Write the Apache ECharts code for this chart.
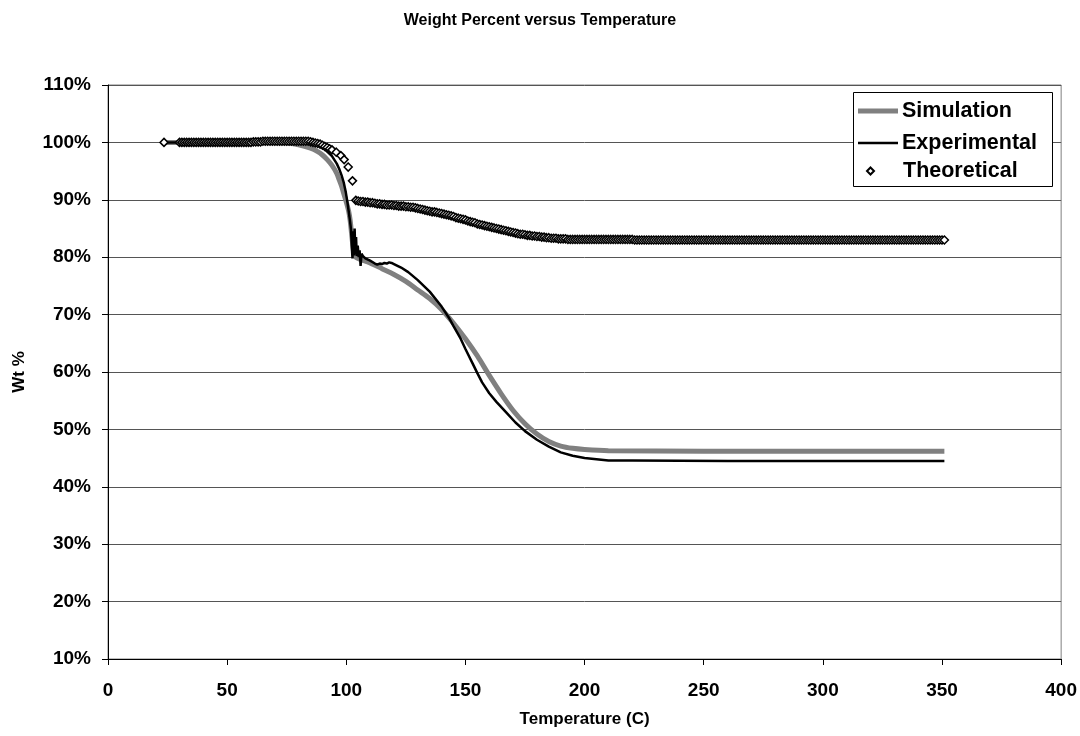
<!DOCTYPE html>
<html>
<head>
<meta charset="utf-8">
<script src="https://cdn.jsdelivr.net/npm/echarts@6/dist/echarts.min.js"></script>
<style>html,body{margin:0;padding:0;background:#fff}#c{width:1080px;height:736px}</style>
</head>
<body>
<div id="c"></div>
<script>
const chartTitle = 'Weight Percent versus Temperature';
const xTitle = 'Temperature (C)';
const yTitle = 'Wt %';
const seriesNames = ['Simulation', 'Experimental', 'Theoretical'];

// Simulation [T, wt%]
const simulation = [
  [24,100],[40,100],[60,100],[75,99.9],[80,99.6],[85,99.0],[88,98.4],[90,97.8],[92,97.0],[94,96.0],
  [96,94.6],[97,93.5],[98,92.4],[99,91.0],[100,89.6],[101,88.0],[101.6,86.5],[102,85.0],[102.5,83.0],
  [103,81.2],[103.5,80.4],[104,80.0],[106,79.6],[108,79.3],[110,79.0],[115,78.0],[120,77.0],
  [125,75.8],[130,74.3],[135,72.8],[140,70.9],[145,68.5],[150,65.8],[155,62.8],[160,59.4],
  [165,56.2],[170,53.3],[175,51.0],[180,49.2],[185,47.9],[190,47.1],[195,46.7],[200,46.5],
  [210,46.3],[250,46.2],[300,46.2],[351,46.2]
];

// Experimental [T, wt%]
const experimental = [
  [24,100],[30,100],[40,100.1],[50,100.2],[60,100.3],[70,100.4],[75,100.5],[80,100.4],[84,100.2],
  [86,99.9],[88,99.6],[90,99.1],[92,98.4],[94,97.6],[96,96.3],[97,95.4],[98,94.3],[99,92.9],
  [99.8,91.3],[100.5,89.5],[101,88.0],[101.5,86.5],[102,84.8],[102.3,82.0],[102.6,79.8],
  [102.9,84.5],[103.2,80.3],[103.5,85.0],[103.8,80.5],[104.1,83.5],[104.4,80.2],[104.8,82.0],
  [105.2,80.0],[105.6,81.2],[106,78.5],[106.4,80.6],[107,80.2],[108,79.8],[110,79.4],[112,78.9],
  [113,78.7],[114,78.9],[115,78.8],[116,79.0],[117,78.9],[118,79.1],[119,79.0],[120,78.8],
  [123,78.2],[126,77.4],[130,76.0],[135,74.0],[140,71.4],[143,69.5],[145,68.0],[148,65.8],
  [150,64.0],[153,61.5],[155,59.8],[157,58.2],[160,56.3],[163,54.8],[167,53.0],[171,51.2],
  [175,49.7],[180,48.2],[185,47.0],[190,46.0],[195,45.4],[200,45.0],[205,44.8],[210,44.6],
  [220,44.6],[260,44.5],[300,44.5],[351,44.5]
];

// Theoretical (markers) [T, wt%]
const theoreticalStart = [
  [23.5,100],
  [30,100],[31,100],[32,100],[33,100],[34,100],[35,100],[36,100],[37,100],[38,100],[39,100],
  [40,100],[41,100],[42,100],[43,100],[44,100],[45,100],[46,100],[47,100],[48,100],[49,100],
  [50,100],[51,100],[52,100],[53,100],[54,100],[55,100],[56,100],[57,100],[58,100],[59,100],
  [60,100],[61,100.1],[62,100.1],[63,100.1],[64,100.1],[65,100.2],[66,100.2],[67,100.2],[68,100.2],
  [69,100.2],[70,100.2],[71,100.2],[72,100.2],[73,100.2],[74,100.2],[75,100.2],[76,100.2],[77,100.2],
  [78,100.2],[79,100.2],[80,100.2],[81,100.2],[82,100.2],[83,100.2],[84,100.2],[85,100.1],[86,100.0],
  [87,99.9],[88,99.8],[89,99.7],[90,99.5],[91,99.3],[92,99.1],[93,98.9],[94,98.7]
];
const theoreticalDrop = [
  [95.8,98.3],[97.7,97.7],[99.1,97.0],[100.8,95.7],[102.6,93.3]
];
const theoreticalLate = [
  [104,89.9],[105,89.8],[106,89.7],[107,89.7],[108,89.6],[109,89.6],[110,89.5],[111,89.5],[112,89.4],
  [113,89.3],[114,89.3],[115,89.2],[116,89.2],[117,89.1],[118,89.1],[119,89.1],[120,89.0],[121,89.0],
  [122,88.9],[123,88.9],[124,88.9],[125,88.8],[126,88.8],[127,88.7],[128,88.7],[129,88.6],[130,88.5],
  [131,88.4],[132,88.3],[133,88.2],[134,88.1],[135,88.0],[136,87.9],[137,87.9],[138,87.8],[139,87.7],
  [140,87.6],[141,87.5],[142,87.4],[143,87.3],[144,87.2],[145,87.1],[146,86.9],[147,86.8],[148,86.7],
  [149,86.6],[150,86.5],[151,86.3],[152,86.2],[153,86.1],[154,86.0],[155,85.8],[156,85.7],[157,85.6],
  [158,85.5],[159,85.4],[160,85.3],[161,85.2],[162,85.1],[163,85.0],[164,84.9],[165,84.8],[166,84.7],
  [167,84.6],[168,84.5],[169,84.4],[170,84.3],[171,84.2],[172,84.1],[173,84.0],[174,84.0],[175,83.9],
  [176,83.8],[177,83.8],[178,83.7],[179,83.7],[180,83.6],[181,83.6],[182,83.5],[183,83.5],[184,83.4],
  [185,83.4],[186,83.3],[187,83.3],[188,83.3],[189,83.2],[190,83.2],[191,83.2],[192,83.2],[193,83.1],
  [194,83.1],[195,83.1],[196,83.1],[197,83.1],[198,83.1],[199,83.1],[200,83.1],[201,83.1],[202,83.1],
  [203,83.1],[204,83.1],[205,83.1],[206,83.1],[207,83.1],[208,83.1],[209,83.1],[210,83.1],[211,83.1],
  [212,83.1],[213,83.1],[214,83.1],[215,83.1],[216,83.1],[217,83.1],[218,83.1],[219,83.1],[220,83.1],
  [221,83.0],[222,83.0],[223,83.0],[224,83.0],[225,83.0],[226,83.0],[227,83.0],[228,83.0],[229,83.0],
  [230,83.0],[231,83.0],[232,83.0],[233,83.0],[234,83.0],[235,83.0],[236,83.0],[237,83.0],[238,83.0],
  [239,83.0],[240,83.0],[241,83.0],[242,83.0],[243,83.0],[244,83.0],[245,83.0],[246,83.0],[247,83.0],
  [248,83.0],[249,83.0],[250,83.0],[251,83.0],[252,83.0],[253,83.0],[254,83.0],[255,83.0],[256,83.0],
  [257,83.0],[258,83.0],[259,83.0],[260,83.0],[261,83.0],[262,83.0],[263,83.0],[264,83.0],[265,83.0],
  [266,83.0],[267,83.0],[268,83.0],[269,83.0],[270,83.0],[271,83.0],[272,83.0],[273,83.0],[274,83.0],
  [275,83.0],[276,83.0],[277,83.0],[278,83.0],[279,83.0],[280,83.0],[281,83.0],[282,83.0],[283,83.0],
  [284,83.0],[285,83.0],[286,83.0],[287,83.0],[288,83.0],[289,83.0],[290,83.0],[291,83.0],[292,83.0],
  [293,83.0],[294,83.0],[295,83.0],[296,83.0],[297,83.0],[298,83.0],[299,83.0],[300,83.0],[301,83.0],
  [302,83.0],[303,83.0],[304,83.0],[305,83.0],[306,83.0],[307,83.0],[308,83.0],[309,83.0],[310,83.0],
  [311,83.0],[312,83.0],[313,83.0],[314,83.0],[315,83.0],[316,83.0],[317,83.0],[318,83.0],[319,83.0],
  [320,83.0],[321,83.0],[322,83.0],[323,83.0],[324,83.0],[325,83.0],[326,83.0],[327,83.0],[328,83.0],
  [329,83.0],[330,83.0],[331,83.0],[332,83.0],[333,83.0],[334,83.0],[335,83.0],[336,83.0],[337,83.0],
  [338,83.0],[339,83.0],[340,83.0],[341,83.0],[342,83.0],[343,83.0],[344,83.0],[345,83.0],[346,83.0],
  [347,83.0],[348,83.0],[349,83.0],[350,83.0],[351,83.0]
];
const theoretical = theoreticalStart.concat(theoreticalDrop, theoreticalLate);

const FONT = 'Liberation Sans, Arial, sans-serif';
const chart = echarts.init(document.getElementById('c'), null, {renderer: 'canvas'});

function legendFor(name, top, left, w, h, icon, padLeft) {
  return {
    data: [{name: name, icon: icon}],
    left: left, top: top, z: 10,
    itemWidth: w, itemHeight: h, itemGap: 0,
    padding: 0,
    textStyle: {fontFamily: FONT, fontWeight: 'bold', fontSize: 21.5, color: '#000', padding: [0,0,0,padLeft]},
    selectedMode: false
  };
}

chart.setOption({
  animation: false,
  backgroundColor: '#fff',
  title: {
    text: chartTitle, left: 'center', top: 8,
    textStyle: {fontFamily: FONT, fontWeight: 'bold', fontSize: 16, color: '#000'}
  },
  grid: {left: 108, right: 18, top: 85, bottom: 77, show: true, borderColor: '#808080', borderWidth: 1, backgroundColor: 'transparent'},
  graphic: [{
    type: 'rect', left: 853, top: 92, z: 1,
    shape: {width: 199, height: 94},
    style: {fill: '#fff', stroke: '#000', lineWidth: 1}
  }],
  legend: [
    legendFor(seriesNames[0], 100, 858, 40, 5, 'rect', -1),
    legendFor(seriesNames[1], 132, 858, 40, 2.5, 'rect', -1),
    legendFor(seriesNames[2], 160, 866, 7, 7, 'diamond', 24)
  ],
  xAxis: {
    type: 'value', min: 0, max: 400, interval: 50,
    name: xTitle, nameLocation: 'middle', nameGap: 52,
    nameTextStyle: {fontFamily: FONT, fontWeight: 'bold', fontSize: 17, color: '#000'},
    axisLine: {show: true, lineStyle: {color: '#000', width: 1}},
    axisTick: {show: true, inside: false, length: 6, lineStyle: {color: '#000'}},
    axisLabel: {fontFamily: FONT, fontWeight: 'bold', fontSize: 19, color: '#000', margin: 22},
    splitLine: {show: false}
  },
  yAxis: {
    type: 'value', min: 10, max: 110, interval: 10,
    name: yTitle, nameLocation: 'middle', nameGap: 80, nameRotate: 90,
    nameTextStyle: {fontFamily: FONT, fontWeight: 'bold', fontSize: 17, color: '#000'},
    axisLine: {show: true, lineStyle: {color: '#000', width: 1}},
    axisTick: {show: true, inside: false, length: 6, lineStyle: {color: '#000'}},
    axisLabel: {fontFamily: FONT, fontWeight: 'bold', fontSize: 19, color: '#000', margin: 17, formatter: '{value}%'},
    splitLine: {show: true, lineStyle: {color: '#555', width: 1}}
  },
  series: [
    {
      name: seriesNames[0], type: 'line', data: simulation, showSymbol: false, symbol: 'none',
      smooth: 0.3, lineStyle: {color: '#808080', width: 5}, itemStyle: {color: '#808080'}, z: 2
    },
    {
      name: seriesNames[1], type: 'line', data: experimental, showSymbol: false, symbol: 'none',
      smooth: false, lineStyle: {color: '#000', width: 2.5}, itemStyle: {color: '#000'}, z: 3
    },
    {
      name: seriesNames[2], type: 'scatter', data: theoretical, symbol: 'diamond', symbolSize: 8,
      itemStyle: {color: '#fff', borderColor: '#000', borderWidth: 1.5, opacity: 1}, z: 4
    }
  ]
});
</script>
</body>
</html>
